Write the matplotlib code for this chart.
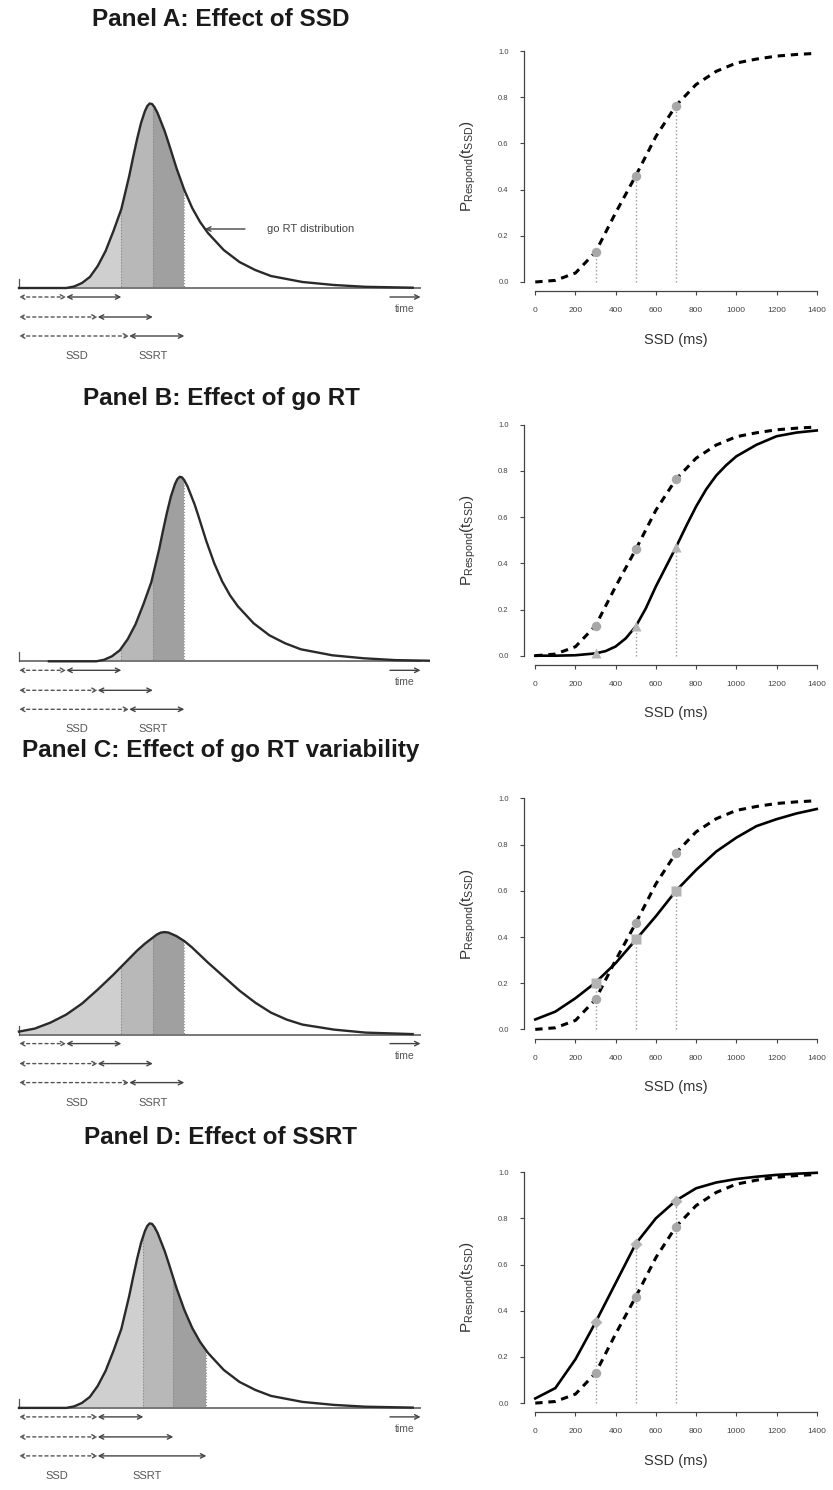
import numpy as np
import matplotlib.pyplot as plt
from matplotlib.patches import Polygon

plt.rcParams['font.family'] = ['Liberation Sans', 'DejaVu Sans']

go_x = [0, 300, 350, 400, 450, 500, 550, 600, 650, 700, 725, 750, 775, 800, 815, 830,
        845, 860, 880, 900, 925, 950, 1000, 1050, 1100, 1150, 1200, 1300, 1400, 1500,
        1600, 1800, 2000, 2200, 2500]
go_y = [0, 0, 1.5, 5, 11, 22, 37, 57, 79, 112, 131, 149, 165, 177, 182, 184.5,
        184, 181, 175, 167, 157, 145, 120, 98, 80, 66, 55, 38, 26, 18,
        12, 6, 3, 1.2, 0.3]
go_shift_b = 190   # panel B: whole distribution moved later
wide_x = [0, 100, 200, 300, 400, 500, 600, 700, 750, 800, 850, 875, 900, 925, 950,
          1000, 1050, 1100, 1200, 1300, 1400, 1500, 1600, 1700, 1800, 2000, 2200, 2500]
wide_y = [3, 6, 12, 20, 31, 45, 60, 76, 84, 91, 97, 100, 102, 102.5, 102,
          98.5, 93.5, 87, 72, 58, 44, 32, 22, 15, 10, 5, 2, 0.5]

ssd_abc = [300, 500, 700]
ssrt_abc = [350, 350, 350]
ssd_d = [500, 500, 500]
ssrt_d = [290, 480, 690]

# inhibition functions
ssd_grid = [0, 100, 200, 300, 400, 500, 600, 700, 800, 900, 1000, 1100, 1200, 1300, 1400]
p_base = [0.0, 0.007, 0.039, 0.13, 0.30, 0.46, 0.63, 0.764, 0.855, 0.912, 0.948, 0.965, 0.978, 0.985, 0.99]
slow_x = [0, 100, 200, 300, 350, 400, 450, 500, 550, 600, 650, 700, 750, 800, 850, 900,
          950, 1000, 1100, 1200, 1300, 1400]
p_slow = [0.0, 0.0, 0.002, 0.01, 0.02, 0.04, 0.075, 0.127, 0.205, 0.30, 0.385, 0.47, 0.56, 0.646, 0.72, 0.78,
          0.825, 0.863, 0.913, 0.95, 0.966, 0.975]
p_var = [0.043, 0.077, 0.135, 0.203, 0.287, 0.388, 0.49, 0.60, 0.69, 0.77, 0.83, 0.88, 0.91, 0.935, 0.954]
p_ssrt = [0.02, 0.065, 0.19, 0.35, 0.52, 0.69, 0.80, 0.877, 0.93, 0.955, 0.97, 0.98, 0.988, 0.993, 0.997]

pt_ssd = [300, 500, 700]
pt_base = [0.13, 0.46, 0.764]
pt_slow = [0.01, 0.127, 0.47]
pt_var = [0.20, 0.39, 0.60]
pt_ssrt = [0.35, 0.69, 0.877]

titles = ['Panel A: Effect of SSD', 'Panel B: Effect of go RT',
          'Panel C: Effect of go RT variability', 'Panel D: Effect of SSRT']
title_y = [20, 399, 750, 1138]

shades = ['#cfcfcf', '#b8b8b8', '#a0a0a0']

W, H = 833, 1490
fig = plt.figure(figsize=(W / 100, H / 100), dpi=100)


def px_axes(x0, x1, ytop, ybot):
    return fig.add_axes([x0 / W, 1 - ybot / H, (x1 - x0) / W, (ybot - ytop) / H])


def draw_left(ax, x, y, ssd, ssrt, lab_x, note=False):
    x = np.asarray(x, float)
    y = np.asarray(y, float)
    ax.set_xlim(-57, 2610)
    ax.set_ylim(-84, 248)
    ax.axis('off')
    ends = [a + b for a, b in zip(ssd, ssrt)]
    verts = np.column_stack([np.r_[x, x[::-1]], np.r_[y, np.zeros(len(y))]])
    clip = Polygon(verts, closed=True, facecolor='none', edgecolor='none')
    ax.add_patch(clip)
    edges = [0] + ends
    for a, b, c in zip(edges[:-1], edges[1:], shades):
        r = ax.axvspan(a, b, color=c, lw=0)
        r.set_clip_path(clip)
    for e in ends:
        l = ax.axvline(e, color='#8a8a8a', lw=0.8, ls=':')
        l.set_clip_path(clip)
    ax.plot([0, 2550], [0, 0], color='#777', lw=1.4, solid_capstyle='butt')
    ax.plot([0, 0], [0, 9], color='#555', lw=0.9)
    ax.plot(x, y, color='#2a2a2a', lw=1.7, solid_joinstyle='round')
    rows = [-9, -29, -48]
    for s, e, yr in zip(ssd, ends, rows):
        ax.annotate('', xy=(s, yr), xytext=(0, yr),
                    arrowprops=dict(arrowstyle='<->', ls=(0, (2.2, 2.2)), color='#555',
                                    lw=1.0, shrinkA=0, shrinkB=0, mutation_scale=8))
        ax.annotate('', xy=(e, yr), xytext=(s, yr),
                    arrowprops=dict(arrowstyle='<->', color='#444',
                                    lw=1.0, shrinkA=0, shrinkB=0, mutation_scale=8))
    ax.annotate('', xy=(2550, -9), xytext=(2356, -9),
                arrowprops=dict(arrowstyle='->', color='#444', lw=1.0,
                                shrinkA=0, shrinkB=0, mutation_scale=8))
    ax.text(2450, -21, 'time', fontsize=7.5, color='#555', ha='center', va='center')
    ax.text(lab_x[0], -68, 'SSD', fontsize=8, color='#555', ha='center', va='center')
    ax.text(lab_x[1], -68, 'SSRT', fontsize=8, color='#555', ha='center', va='center')
    if note:
        ax.annotate('', xy=(1181, 59), xytext=(1435, 59),
                    arrowprops=dict(arrowstyle='->', color='#444', lw=1.0,
                                    shrinkA=0, shrinkB=0, mutation_scale=8))
        ax.text(1575, 59, 'go RT distribution', fontsize=8, color='#444',
                ha='left', va='center')


def draw_right(ax, comp_x, comp, pts, marker, msize):
    ax.set_xlim(-56, 1456)
    ax.set_ylim(-0.04, 1.04)
    for s in ['top', 'right']:
        ax.spines[s].set_visible(False)
    ax.spines['left'].set_bounds(0, 1)
    ax.spines['bottom'].set_bounds(0, 1400)
    for s in ['left', 'bottom']:
        ax.spines[s].set_color('#444')
        ax.spines[s].set_linewidth(0.9)
    ax.set_xticks(ssd_grid[::2])
    ax.set_yticks([0, 0.2, 0.4, 0.6, 0.8, 1.0])
    ax.set_yticklabels(['0.0', '0.2', '0.4', '0.6', '0.8', '1.0'])
    ax.tick_params(axis='x', length=3, width=0.8, colors='#444', labelsize=6, pad=8.5)
    ax.tick_params(axis='y', length=3, width=0.8, colors='#444', labelsize=5.5, pad=8)
    ax.patch.set_alpha(0)
    ax.plot(ssd_grid, p_base, color='black', lw=2.2, ls=(0, (2.4, 1.9)), zorder=3)
    if comp is None:
        ax.vlines(pt_ssd, 0, pt_base, colors='#999', linestyles=':', lw=1, zorder=2)
    else:
        ax.plot(comp_x, comp, color='black', lw=1.9, zorder=3, solid_joinstyle='round')
        ax.vlines(pt_ssd, 0, pts, colors='#999', linestyles=':', lw=1, zorder=2)
    ax.plot(pt_ssd, pt_base, 'o', color='#a8a8a8', ms=6.8, mec='none', zorder=4)
    if comp is not None:
        ax.plot(pt_ssd, pts, marker, color='#b4b4b4', ms=msize, mec='none', ls='none', zorder=4)
    ax.text(-0.184, 0.5, r'$\mathregular{P_{Respond}(t_{SSD})}$', transform=ax.transAxes,
            rotation=90, ha='center', va='center', fontsize=11, color='#333')
    ax.text(0.5, -0.194, 'SSD (ms)', transform=ax.transAxes,
            ha='center', va='center', fontsize=10.5, color='#333')


panels = [
    (go_x, go_y, ssd_abc, ssrt_abc, (368, 851), None, None, None, None, 0),
    ([v + go_shift_b for v in go_x], go_y, ssd_abc, ssrt_abc, (368, 851),
     slow_x, p_slow, pt_slow, '^', 7.5),
    (wide_x, wide_y, ssd_abc, ssrt_abc, (368, 851), ssd_grid, p_var, pt_var, 's', 6.5),
    (go_x, go_y, ssd_d, ssrt_d, (241, 813), ssd_grid, p_ssrt, pt_ssrt, 'D', 6),
]

for i, (dx, dy, ssd, ssrt, labx, cx, comp, pts, mk, ms) in enumerate(panels):
    base = 288 + 373.3 * i
    zero = 282 + 373.7 * i
    axl = px_axes(10, 430, base - 248, base + 84)
    draw_left(axl, dx, dy, ssd, ssrt, labx, note=(i == 0))
    axr = px_axes(524, 828, zero - 1.04 * 231, zero + 0.04 * 231)
    draw_right(axr, cx, comp, pts, mk, ms)
    fig.text(221 / W, 1 - title_y[i] / H, titles[i], ha='center', va='center',
             fontsize=17.5, fontweight='bold', color='#1a1a1a')

fig.savefig('out.png', dpi=100)
